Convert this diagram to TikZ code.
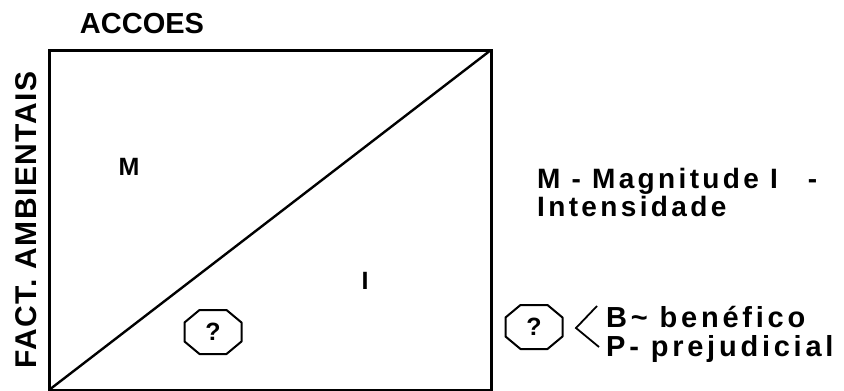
\documentclass[tikz,border=0pt]{standalone}
\usepackage{fontspec}
\setmainfont{Liberation Sans}
\usetikzlibrary{positioning}

% octagon round a named node
\newcommand{\octaround}[1]{%
  \draw[octo] ([shift={(-13.5,-22)}]#1.center) -- ([shift={(13.5,-22)}]#1.center)
    -- ([shift={(28.5,-9.5)}]#1.center) -- ([shift={(28.5,9.5)}]#1.center)
    -- ([shift={(13.5,22)}]#1.center) -- ([shift={(-13.5,22)}]#1.center)
    -- ([shift={(-28.5,9.5)}]#1.center) -- ([shift={(-28.5,-9.5)}]#1.center) -- cycle;}

\begin{document}
\begin{tikzpicture}[x=1pt, y=-1pt,
            frame/.style={draw, line width=3pt},
            octo/.style={line width=2pt, line join=round},
            quest/.style={inner sep=0pt, font=\fontsize{25}{25}\selectfont\bfseries},
            zone/.style={inner sep=0pt, font=\fontsize{25}{25}\selectfont\bfseries},
            legend/.style={anchor=base west, inner sep=0pt, font=\fontsize{28}{28}\selectfont\bfseries\addfontfeatures{LetterSpace=12}},
            choice/.style={legend, font=\fontsize{29}{29}\selectfont\bfseries\addfontfeatures{LetterSpace=13}}
        ]
            \useasboundingbox (0,0) rectangle (844,391);

            % matrix frame
            \coordinate (bl) at (49,390);
            \coordinate (tr) at (491,50);
            \draw[frame] (bl) rectangle (tr);
            \draw[line width=2.4pt] (bl) -- (tr);

            % axis titles
            \node[anchor=base, inner sep=0pt, font=\fontsize{29}{29}\selectfont\bfseries] (acc) at (142,33) {ACCOES};
            \node[rotate=90, inner sep=0pt, font=\fontsize{30}{30}\selectfont\bfseries\addfontfeatures{LetterSpace=5}] (fact) at (26,220) {FACT. AMBIENTAIS};

            % zones
            \node[zone] (m) at (129,167) {M};
            \node[zone] (i) at (365,281) {I};
            \node[quest] (q1) at (213,332) {?};
            \octaround{q1}

            % legend
            \node[legend] (mag) at (537,188) {M - Magnitude I\hspace{30pt}-};
            \node[legend] (int) at (537,216) {Intensidade};

            \node[quest] (q2) at (534,327) {?};
            \octaround{q2}
            \coordinate (apex) at (576,328);
            \coordinate (up) at (597,306);
            \coordinate (dn) at (599,347);
            \draw[line width=1.8pt] (up) -- (apex) -- (dn);
            \node[choice] (ben) at (606,327) {B\char`~{} benéfico};
            \node[choice] (pre) at (606,356) {P- prejudicial};

        \end{tikzpicture}
\end{document}
